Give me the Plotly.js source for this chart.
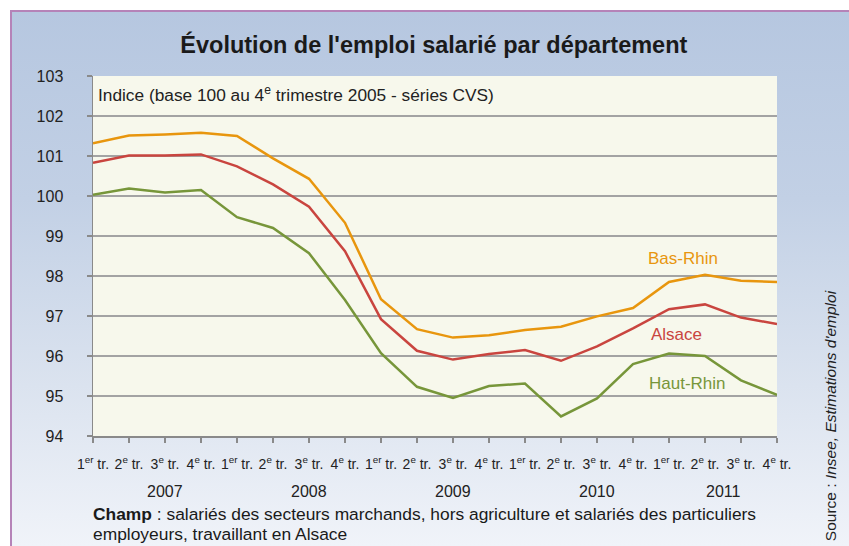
<!DOCTYPE html>
<html>
<head>
<meta charset="utf-8">
<script src="https://cdn.plot.ly/plotly-3.0.1.min.js"></script>
<style>
  html, body { margin: 0; padding: 0; background: #ffffff; }
  #wrap { position: relative; width: 849px; height: 546px; overflow: hidden; background: #ffffff; }
  #panel { position: absolute; left: 10px; top: 10px; width: 839px; height: 536px;
           border-top: 2px solid #b583b8; border-left: 2px solid #b583b8; box-sizing: border-box;
           background: linear-gradient(to bottom, #b6c7e0 0%, #c2d0e5 35%, #dbe3ef 70%, #f0f3f9 100%); }
  #chart { position: absolute; left: 0; top: 0; width: 849px; height: 546px; }
</style>
</head>
<body>
<div id="wrap">
  <div id="panel"></div>
  <div id="chart"></div>
</div>
<script>
const quarters = ["1<sup>er</sup> tr.", "2<sup>e</sup> tr.", "3<sup>e</sup> tr.", "4<sup>e</sup> tr.",
                  "1<sup>er</sup> tr.", "2<sup>e</sup> tr.", "3<sup>e</sup> tr.", "4<sup>e</sup> tr.",
                  "1<sup>er</sup> tr.", "2<sup>e</sup> tr.", "3<sup>e</sup> tr.", "4<sup>e</sup> tr.",
                  "1<sup>er</sup> tr.", "2<sup>e</sup> tr.", "3<sup>e</sup> tr.", "4<sup>e</sup> tr.",
                  "1<sup>er</sup> tr.", "2<sup>e</sup> tr.", "3<sup>e</sup> tr.", "4<sup>e</sup> tr."];
const years = ["2007", "2008", "2009", "2010", "2011"];
const yearPos = [2, 6, 10, 14, 17.5];

const basRhin  = [101.32, 101.51, 101.54, 101.58, 101.50, 100.94, 100.43, 99.33, 97.42, 96.67,
                  96.46, 96.52, 96.65, 96.73, 96.99, 97.20, 97.85, 98.03, 97.88, 97.85];
const alsace   = [100.83, 101.01, 101.01, 101.04, 100.74, 100.29, 99.73, 98.62, 96.92, 96.13,
                  95.91, 96.05, 96.15, 95.88, 96.24, 96.69, 97.17, 97.29, 96.96, 96.80];
const hautRhin = [100.03, 100.19, 100.09, 100.15, 99.47, 99.20, 98.57, 97.40, 96.07, 95.23,
                  94.95, 95.25, 95.31, 94.49, 94.94, 95.80, 96.06, 96.00, 95.39, 95.03];

const xIdx = quarters.map((q, i) => i);
const FONT = "Liberation Sans, Arial, sans-serif";
const NARROW = "Liberation Sans Narrow, Arial Narrow, Liberation Sans, Arial, sans-serif";

const traces = [
  {x: xIdx, y: basRhin, name: "Bas-Rhin", mode: "lines", line: {color: "#e8960e", width: 2.5}},
  {x: xIdx, y: alsace, name: "Alsace", mode: "lines", line: {color: "#c9453f", width: 2.5}},
  {x: xIdx, y: hautRhin, name: "Haut-Rhin", mode: "lines", line: {color: "#77963a", width: 2.5}}
];

const annotations = [
  {text: "Indice (base 100 au 4<sup>e</sup> trimestre 2005 - séries CVS)", xref: "paper", yref: "paper",
   x: 0.005, y: 0.985, xanchor: "left", yanchor: "top", showarrow: false,
   font: {family: FONT, size: 17.3, color: "#222"}},
  {text: "Bas-Rhin", x: 16.4, y: 98.43, showarrow: false, font: {family: FONT, size: 17, color: "#e8960e"}},
  {text: "Alsace", x: 16.2, y: 96.53, showarrow: false, font: {family: FONT, size: 17, color: "#c9453f"}},
  {text: "Haut-Rhin", x: 16.5, y: 95.32, showarrow: false, font: {family: FONT, size: 17, color: "#77963a"}},
  {text: "<b>Champ</b> : salariés des secteurs marchands, hors agriculture et salariés des particuliers",
   xref: "paper", yref: "paper", x: -0.003, y: -0.217, xanchor: "left", yanchor: "middle", showarrow: false,
   font: {family: FONT, size: 17.4, color: "#1a1a1a"}},
  {text: "employeurs, travaillant en Alsace",
   xref: "paper", yref: "paper", x: -0.003, y: -0.273, xanchor: "left", yanchor: "middle", showarrow: false,
   font: {family: FONT, size: 17.4, color: "#1a1a1a"}},
  {text: "Source : <i>Insee, Estimations d'emploi</i>", xref: "paper", yref: "paper",
   x: 1.078, y: -0.298, xanchor: "center", yanchor: "bottom", textangle: -90, showarrow: false,
   font: {family: FONT, size: 15.5, color: "#222"}}
];
years.forEach((yr, i) => {
  annotations.push({text: yr, x: yearPos[i], xref: "x", yref: "paper", y: -0.153,
    xanchor: "center", yanchor: "middle", showarrow: false,
    font: {family: FONT, size: 16, color: "#222"}});
});

const layout = {
  width: 849, height: 546,
  paper_bgcolor: "rgba(0,0,0,0)",
  plot_bgcolor: "#f7f8ec",
  margin: {l: 93, r: 72, t: 76, b: 110},
  showlegend: false,
  title: {text: "<b>Évolution de l'emploi salarié par département</b>", x: 0.511, xanchor: "center",
          y: 0.918, yanchor: "middle", font: {family: FONT, size: 23.5, color: "#1a1a1a"}},
  xaxis: {
    range: [0, 19], tickmode: "array", tickvals: xIdx, ticktext: quarters,
    showgrid: false, zeroline: false, showline: true, linecolor: "#8a8a8a", linewidth: 1.5,
    ticks: "outside", ticklen: 5, tickcolor: "#8a8a8a", tickwidth: 1.2,
    tickfont: {family: NARROW, size: 14, color: "#222"}, ticklabelstandoff: 10, fixedrange: true
  },
  yaxis: {
    range: [94, 103], dtick: 1, tick0: 94,
    showgrid: true, gridcolor: "#a3a3a3", gridwidth: 1.5, zeroline: false,
    showline: true, linecolor: "#8a8a8a", linewidth: 1.5,
    ticks: "outside", ticklen: 5, tickcolor: "#8a8a8a", tickwidth: 1.2,
    tickfont: {family: NARROW, size: 16, color: "#222"}, ticklabelstandoff: 20, fixedrange: true
  },
  annotations: annotations
};

Plotly.newPlot("chart", traces, layout, {staticPlot: true, displayModeBar: false});
</script>
</body>
</html>
